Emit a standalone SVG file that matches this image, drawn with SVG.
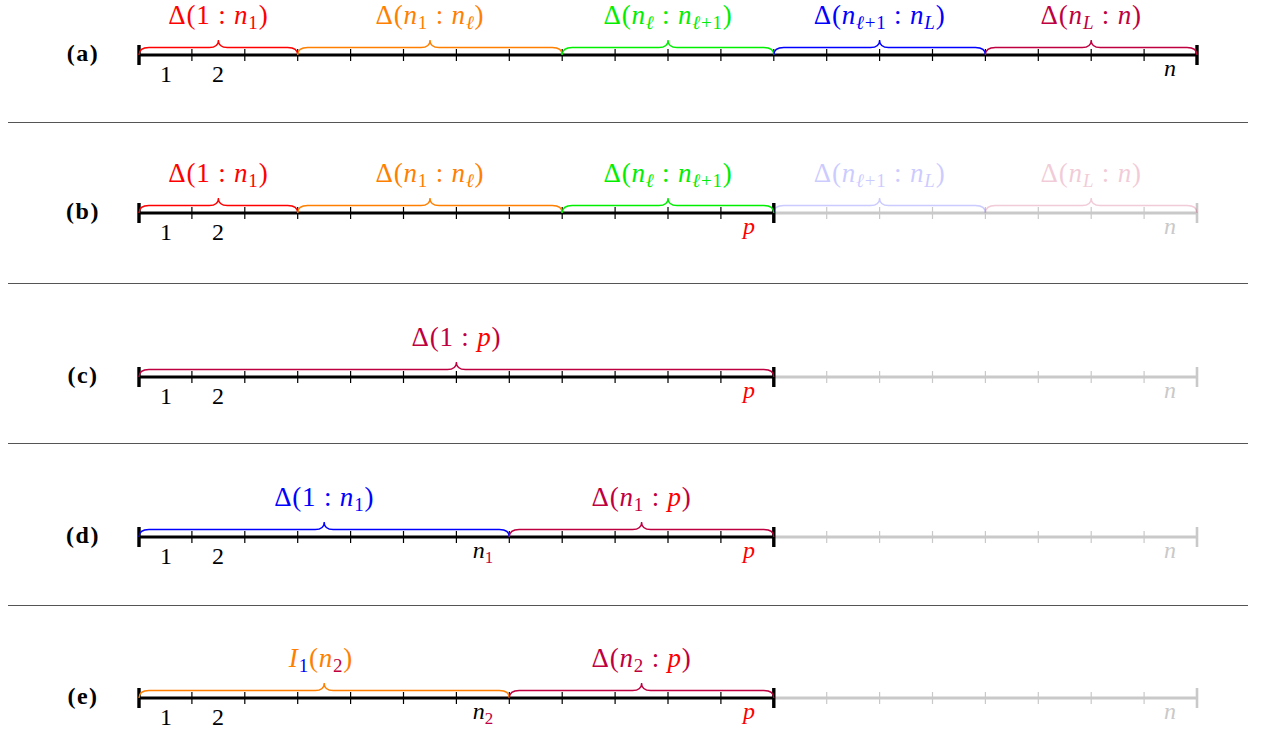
<svg xmlns="http://www.w3.org/2000/svg" width="1261" height="732" viewBox="0 0 1261 732" font-family="'Liberation Serif', 'Times New Roman', Times, 'DejaVu Serif', 'Noto Serif', serif">
<style>
text{font-family:'Liberation Serif','Times New Roman',Times,'DejaVu Serif','Noto Serif',serif;fill:#000}
text.lb{font-size:27px;text-anchor:middle;letter-spacing:0.8px}
text.tl{font-size:24px;text-anchor:middle}
text.rl{font-size:24px;font-weight:bold;text-anchor:middle;letter-spacing:1.5px}
.i{font-style:italic}
.ax{stroke:#000;stroke-width:2.8;fill:none}
.tk{stroke:#000;stroke-width:1.2;fill:none}
.bar{stroke:#000;stroke-width:3.4;fill:none}
.gax{stroke:#c9c9c9;stroke-width:2.8;fill:none}
.gtk{stroke:#c9c9c9;stroke-width:1.2;fill:none}
.gbar{stroke:#c9c9c9;stroke-width:2.6;fill:none}
path.br{fill:none;stroke-width:1.3}
.sep{stroke:#555;stroke-width:1}
path.red{stroke:#ff0000}
path.org{stroke:#ff8000}
path.grn{stroke:#00ee00}
path.blu{stroke:#0000ff}
path.pur{stroke:#bf0040}
text.red,tspan.r{fill:#ff0000}
text.org{fill:#ff8000}
text.grn{fill:#00ee00}
text.blu,tspan.b{fill:#0000ff}
text.pur,tspan.p{fill:#bf0040}
text.gry{fill:#c9c9c9}
tspan.s{font-size:19px}
</style>
<defs>
<path id="tkL" d="M191.9,49V61M244.8,49V61M297.7,49V61M350.6,49V61M403.5,49V61M456.4,49V61M509.3,49V61M562.2,49V61M615.1,49V61M668,49V61M720.9,49V61"/>
<path id="tkR" d="M826.7,49V61M879.6,49V61M932.5,49V61M985.4,49V61M1038.3,49V61M1091.2,49V61M1144.1,49V61"/>
</defs>

<g id="separators">
<line class="sep" x1="8" y1="122.5" x2="1248" y2="122.5"/>
<line class="sep" x1="8" y1="283.5" x2="1248" y2="283.5"/>
<line class="sep" x1="8" y1="443.5" x2="1248" y2="443.5"/>
<line class="sep" x1="8" y1="605.5" x2="1248" y2="605.5"/>
</g>

<!-- Row (a) -->
<g id="row-a">
<text class="rl" x="83" y="61">(a)</text>
<g id="axis-a">
<line class="ax" x1="139" y1="55" x2="1197" y2="55"/>
<use href="#tkL" class="tk"/>
<path class="tk" d="M773.8,49V61"/>
<use href="#tkR" class="tk"/>
<path class="bar" d="M139,45V65M1197,45V65"/>
<text class="tl" x="166" y="82">1</text>
<text class="tl" x="218" y="82">2</text>
<text class="tl i" x="1170" y="76">n</text>
</g>
<g id="braces-a">
<path class="br red" d="M139,55 Q139,47.5 149,47.5 H209.4 Q218.4,47.5 218.4,40 Q218.4,47.5 227.4,47.5 H287.7 Q297.7,47.5 297.7,55"/>
<path class="br org" d="M297.7,55 Q297.7,47.5 307.7,47.5 H421 Q430,47.5 430,40 Q430,47.5 439,47.5 H552.2 Q562.2,47.5 562.2,55"/>
<path class="br grn" d="M562.2,55 Q562.2,47.5 572.2,47.5 H659 Q668,47.5 668,40 Q668,47.5 677,47.5 H763.8 Q773.8,47.5 773.8,55"/>
<path class="br blu" d="M773.8,55 Q773.8,47.5 783.8,47.5 H870.6 Q879.6,47.5 879.6,40 Q879.6,47.5 888.6,47.5 H975.4 Q985.4,47.5 985.4,55"/>
<path class="br pur" d="M985.4,55 Q985.4,47.5 995.4,47.5 H1082.2 Q1091.2,47.5 1091.2,40 Q1091.2,47.5 1100.2,47.5 H1187 Q1197,47.5 1197,55"/>
<text class="lb red" x="218.4" y="24">Δ(1 : <tspan class="i">n</tspan><tspan dy="5" class="s">1</tspan><tspan dy="-5">)</tspan></text>
<text class="lb org" x="430" y="24">Δ(<tspan class="i">n</tspan><tspan dy="5" class="s">1</tspan><tspan dy="-5"> : </tspan><tspan class="i">n</tspan><tspan dy="5" class="s i">ℓ</tspan><tspan dy="-5">)</tspan></text>
<text class="lb grn" x="668" y="24">Δ(<tspan class="i">n</tspan><tspan dy="5" class="s i">ℓ</tspan><tspan dy="-5"> : </tspan><tspan class="i">n</tspan><tspan dy="5" class="s"><tspan class="i">ℓ</tspan>+1</tspan><tspan dy="-5">)</tspan></text>
<text class="lb blu" x="879.6" y="24">Δ(<tspan class="i">n</tspan><tspan dy="5" class="s"><tspan class="i">ℓ</tspan>+1</tspan><tspan dy="-5"> : </tspan><tspan class="i">n</tspan><tspan dy="5" class="s i">L</tspan><tspan dy="-5">)</tspan></text>
<text class="lb pur" x="1091.2" y="24">Δ(<tspan class="i">n</tspan><tspan dy="5" class="s i">L</tspan><tspan dy="-5"> : </tspan><tspan class="i">n</tspan>)</text>
</g>
</g>

<!-- Row (b) -->
<g id="row-b" transform="translate(0,158)">
<text class="rl" x="83" y="61">(b)</text>
<g id="axis-b">
<line class="gax" x1="773.8" y1="55" x2="1197" y2="55"/>
<use href="#tkR" class="gtk"/>
<path class="gbar" d="M1197,45V65"/>
<line class="ax" x1="139" y1="55" x2="773.8" y2="55"/>
<use href="#tkL" class="tk"/>
<path class="bar" d="M139,45V65M773.8,45V65"/>
<text class="tl" x="166" y="82">1</text>
<text class="tl" x="218" y="82">2</text>
<text class="tl i red" x="749" y="76">p</text>
<text class="tl i gry" x="1170" y="76">n</text>
</g>
<g id="braces-b">
<path class="br red" d="M139,55 Q139,47.5 149,47.5 H209.4 Q218.4,47.5 218.4,40 Q218.4,47.5 227.4,47.5 H287.7 Q297.7,47.5 297.7,55"/>
<path class="br org" d="M297.7,55 Q297.7,47.5 307.7,47.5 H421 Q430,47.5 430,40 Q430,47.5 439,47.5 H552.2 Q562.2,47.5 562.2,55"/>
<path class="br grn" d="M562.2,55 Q562.2,47.5 572.2,47.5 H659 Q668,47.5 668,40 Q668,47.5 677,47.5 H763.8 Q773.8,47.5 773.8,55"/>
<g opacity="0.2">
<path class="br blu" d="M773.8,55 Q773.8,47.5 783.8,47.5 H870.6 Q879.6,47.5 879.6,40 Q879.6,47.5 888.6,47.5 H975.4 Q985.4,47.5 985.4,55"/>
<path class="br pur" d="M985.4,55 Q985.4,47.5 995.4,47.5 H1082.2 Q1091.2,47.5 1091.2,40 Q1091.2,47.5 1100.2,47.5 H1187 Q1197,47.5 1197,55"/>
<text class="lb blu" x="879.6" y="24">Δ(<tspan class="i">n</tspan><tspan dy="5" class="s"><tspan class="i">ℓ</tspan>+1</tspan><tspan dy="-5"> : </tspan><tspan class="i">n</tspan><tspan dy="5" class="s i">L</tspan><tspan dy="-5">)</tspan></text>
<text class="lb pur" x="1091.2" y="24">Δ(<tspan class="i">n</tspan><tspan dy="5" class="s i">L</tspan><tspan dy="-5"> : </tspan><tspan class="i">n</tspan>)</text>
</g>
<text class="lb red" x="218.4" y="24">Δ(1 : <tspan class="i">n</tspan><tspan dy="5" class="s">1</tspan><tspan dy="-5">)</tspan></text>
<text class="lb org" x="430" y="24">Δ(<tspan class="i">n</tspan><tspan dy="5" class="s">1</tspan><tspan dy="-5"> : </tspan><tspan class="i">n</tspan><tspan dy="5" class="s i">ℓ</tspan><tspan dy="-5">)</tspan></text>
<text class="lb grn" x="668" y="24">Δ(<tspan class="i">n</tspan><tspan dy="5" class="s i">ℓ</tspan><tspan dy="-5"> : </tspan><tspan class="i">n</tspan><tspan dy="5" class="s"><tspan class="i">ℓ</tspan>+1</tspan><tspan dy="-5">)</tspan></text>
</g>
</g>

<!-- Row (c) -->
<g id="row-c" transform="translate(0,322)">
<text class="rl" x="83" y="61">(c)</text>
<g id="axis-c">
<line class="gax" x1="773.8" y1="55" x2="1197" y2="55"/>
<use href="#tkR" class="gtk"/>
<path class="gbar" d="M1197,45V65"/>
<line class="ax" x1="139" y1="55" x2="773.8" y2="55"/>
<use href="#tkL" class="tk"/>
<path class="bar" d="M139,45V65M773.8,45V65"/>
<text class="tl" x="166" y="82">1</text>
<text class="tl" x="218" y="82">2</text>
<text class="tl i red" x="749" y="76">p</text>
<text class="tl i gry" x="1170" y="76">n</text>
</g>
<g id="braces-c">
<path class="br pur" d="M139,55 Q139,47.5 149,47.5 H447.4 Q456.4,47.5 456.4,40 Q456.4,47.5 465.4,47.5 H763.8 Q773.8,47.5 773.8,55"/>
<text class="lb pur" x="456.4" y="24">Δ(1 : <tspan class="i r">p</tspan>)</text>
</g>
</g>

<!-- Row (d) -->
<g id="row-d" transform="translate(0,482)">
<text class="rl" x="83" y="61">(d)</text>
<g id="axis-d">
<line class="gax" x1="773.8" y1="55" x2="1197" y2="55"/>
<use href="#tkR" class="gtk"/>
<path class="gbar" d="M1197,45V65"/>
<line class="ax" x1="139" y1="55" x2="773.8" y2="55"/>
<use href="#tkL" class="tk"/>
<path class="bar" d="M139,45V65M773.8,45V65"/>
<text class="tl" x="166" y="82">1</text>
<text class="tl" x="218" y="82">2</text>
<text class="tl" x="483" y="76"><tspan class="i">n</tspan><tspan class="p" dy="5" font-size="17">1</tspan></text>
<text class="tl i red" x="749" y="76">p</text>
<text class="tl i gry" x="1170" y="76">n</text>
</g>
<g id="braces-d">
<path class="br blu" d="M139,55 Q139,47.5 149,47.5 H315.2 Q324.2,47.5 324.2,40 Q324.2,47.5 333.2,47.5 H499.3 Q509.3,47.5 509.3,55"/>
<path class="br pur" d="M509.3,55 Q509.3,47.5 519.3,47.5 H632.6 Q641.6,47.5 641.6,40 Q641.6,47.5 650.6,47.5 H763.8 Q773.8,47.5 773.8,55"/>
<text class="lb blu" x="324.2" y="24">Δ(1 : <tspan class="i">n</tspan><tspan dy="5" class="s">1</tspan><tspan dy="-5">)</tspan></text>
<text class="lb pur" x="641.6" y="24">Δ(<tspan class="i">n</tspan><tspan dy="5" class="s">1</tspan><tspan dy="-5"> : </tspan><tspan class="i r">p</tspan>)</text>
</g>
</g>

<!-- Row (e) -->
<g id="row-e" transform="translate(0,643)">
<text class="rl" x="83" y="61">(e)</text>
<g id="axis-e">
<line class="gax" x1="773.8" y1="55" x2="1197" y2="55"/>
<use href="#tkR" class="gtk"/>
<path class="gbar" d="M1197,45V65"/>
<line class="ax" x1="139" y1="55" x2="773.8" y2="55"/>
<use href="#tkL" class="tk"/>
<path class="bar" d="M139,45V65M773.8,45V65"/>
<text class="tl" x="166" y="82">1</text>
<text class="tl" x="218" y="82">2</text>
<text class="tl" x="483" y="76"><tspan class="i">n</tspan><tspan class="p" dy="5" font-size="17">2</tspan></text>
<text class="tl i red" x="749" y="76">p</text>
<text class="tl i gry" x="1170" y="76">n</text>
</g>
<g id="braces-e">
<path class="br org" d="M139,55 Q139,47.5 149,47.5 H315.2 Q324.2,47.5 324.2,40 Q324.2,47.5 333.2,47.5 H499.3 Q509.3,47.5 509.3,55"/>
<path class="br pur" d="M509.3,55 Q509.3,47.5 519.3,47.5 H632.6 Q641.6,47.5 641.6,40 Q641.6,47.5 650.6,47.5 H763.8 Q773.8,47.5 773.8,55"/>
<text class="lb org" x="321" y="24"><tspan class="i">I</tspan><tspan class="b s" dy="5">1</tspan><tspan dy="-5">(</tspan><tspan class="i">n</tspan><tspan class="p s" dy="5">2</tspan><tspan dy="-5">)</tspan></text>
<text class="lb pur" x="641.6" y="24">Δ(<tspan class="i">n</tspan><tspan dy="5" class="s">2</tspan><tspan dy="-5"> : </tspan><tspan class="i r">p</tspan>)</text>
</g>
</g>
</svg>
